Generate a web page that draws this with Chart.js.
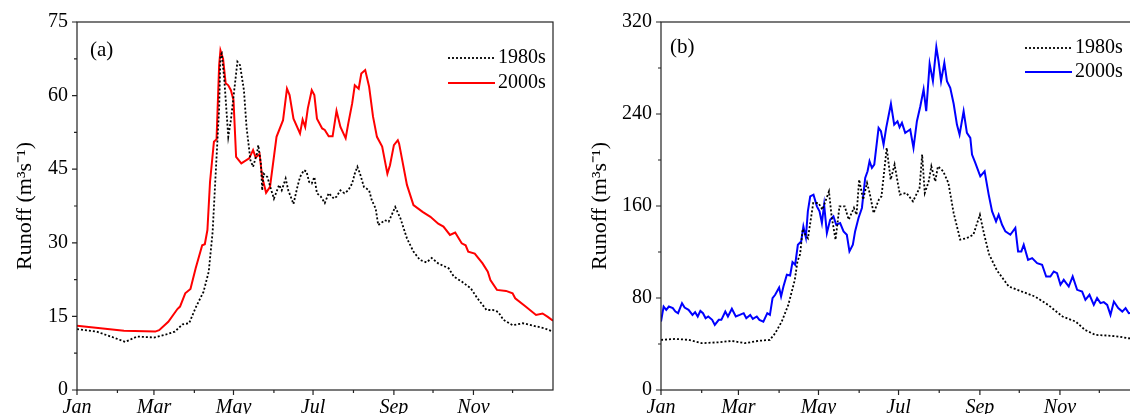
<!DOCTYPE html>
<html>
<head>
<meta charset="utf-8">
<title>Runoff 1980s vs 2000s</title>
<script src="https://cdn.jsdelivr.net/npm/chart.js@4.4.1/dist/chart.umd.min.js"></script>
<style>
  html, body { margin: 0; padding: 0; background: #fff; }
  body { width: 1130px; height: 414px; position: relative; overflow: hidden; }
  .panel { position: absolute; top: 0; height: 414px; overflow: hidden; }
  #panel-a { left: 0; width: 560px; }
  #panel-b { left: 580px; width: 550px; }
</style>
</head>
<body>
<div class="panel" id="panel-a"><canvas id="chart-a" width="560" height="414"></canvas></div>
<div class="panel" id="panel-b"><canvas id="chart-b" width="600" height="414"></canvas></div>
<script>
// x axis: day of year, ticks at the first day of each month
const monthStarts = [0, 31, 59, 90, 120, 151, 181, 212, 243, 273, 304, 334];
const monthLabels = ['Jan', '', 'Mar', '', 'May', '', 'Jul', '', 'Sep', '', 'Nov', ''];

// panel (a)
const yTicksA = [0, 15, 30, 45, 60, 75];
const yMinorA = [7.5, 22.5, 37.5, 52.5, 67.5];

const daysA1980 = [0, 15, 28, 37, 46, 59, 68, 75, 81, 86, 91, 97, 101, 104, 106, 109, 110, 111, 113, 116,
  118, 120, 123, 125, 128, 130, 133, 135, 138, 139, 141, 142, 143, 146, 149, 151, 155, 157, 160, 162,
  166, 169, 171, 174, 176, 178, 180, 182, 184, 187, 190, 193, 197, 199, 202, 205, 208, 211, 213, 215,
  217, 220, 224, 226, 229, 231, 236, 239, 244, 248, 253, 258, 263, 268, 272, 277, 285, 289, 295, 302,
  307, 312, 314, 319, 323, 327, 334, 342, 350, 358, 365];
const runoffA1980 = [12.4, 11.9, 10.7, 9.8, 10.9, 10.7, 11.3, 11.9, 13.4, 13.6, 16.8, 20.0, 24.1, 32.2, 42.4, 57.4, 68.2, 68.6, 63.1, 51.6,
  55.0, 59.7, 66.9, 66.2, 61.1, 53.6, 46.8, 45.5, 48.2, 49.9, 46.2, 40.7, 44.1, 43.4, 40.7, 39.0, 41.8, 40.7, 43.1, 40.7,
  37.9, 41.4, 43.4, 44.8, 44.5, 42.4, 42.1, 43.4, 40.1, 39.4, 38.1, 40.1, 39.0, 39.4, 40.7, 40.1, 40.7, 42.1, 44.1, 45.5,
  44.1, 41.4, 40.7, 38.7, 37.0, 33.6, 34.6, 34.3, 37.3, 35.0, 30.9, 28.2, 26.5, 26.0, 26.9, 25.8, 24.8, 23.1, 22.1, 20.7,
  18.7, 17.0, 16.3, 16.3, 15.9, 14.3, 13.2, 13.6, 13.1, 12.6, 11.9];

const daysA2000 = [0, 18, 36, 60, 63, 70, 77, 79, 83, 87, 91, 96, 98, 100, 102, 105, 107, 109, 110, 112,
  114, 116, 118, 120, 122, 126, 132, 135, 137, 140, 142, 145, 148, 153, 158, 161, 163, 166, 171, 173,
  175, 177, 180, 182, 184, 188, 190, 193, 196, 199, 202, 206, 208, 211, 213, 216, 218, 221, 224, 227,
  230, 234, 238, 240, 243, 246, 247, 253, 258, 265, 271, 277, 281, 286, 290, 295, 298, 300, 305, 311,
  315, 317, 322, 329, 334, 336, 344, 352, 357, 361, 365];
const runoffA2000 = [13.1, 12.6, 12.1, 11.9, 12.2, 13.9, 16.5, 17.0, 19.7, 20.6, 24.8, 29.5, 29.7, 32.6, 42.4, 50.6, 51.1, 66.2, 69.2, 67.5,
  62.5, 62.1, 61.1, 59.1, 47.5, 46.2, 47.2, 48.9, 47.4, 48.1, 43.4, 40.2, 41.4, 51.6, 55.0, 61.4, 60.1, 55.3, 52.3, 55.1,
  53.6, 57.4, 61.1, 60.1, 55.3, 53.3, 53.0, 51.7, 51.7, 56.9, 53.6, 51.3, 54.3, 58.4, 62.1, 61.4, 64.5, 65.2, 61.8, 55.7,
  51.6, 49.6, 44.1, 45.8, 49.9, 50.9, 50.2, 41.8, 37.7, 36.3, 35.3, 33.9, 33.3, 31.6, 32.1, 29.9, 29.5, 28.2, 27.8, 25.8,
  24.1, 22.4, 20.4, 20.2, 19.7, 18.7, 17.0, 15.3, 15.6, 14.9, 14.1];

// panel (b)
const yTicksB = [0, 80, 160, 240, 320];
const yMinorB = [40, 120, 200, 280];

const daysB1980 = [0, 11, 21, 31, 44, 54, 64, 74, 83, 87, 92, 97, 102, 104, 106, 108, 110, 112, 116, 120,
  123, 128, 130, 133, 136, 140, 143, 147, 149, 151, 154, 157, 159, 162, 166, 168, 172, 175, 178, 182,
  187, 192, 197, 199, 201, 204, 206, 209, 211, 215, 219, 223, 228, 233, 238, 243, 246, 250, 256, 265,
  275, 285, 295, 306, 316, 323, 331, 341, 349, 356, 365];
const runoffB1980 = [43.6, 44.4, 43.6, 40.7, 41.5, 42.7, 40.7, 42.7, 43.6, 49.4, 59.5, 74.0, 96.0, 112.0, 118.0, 140.0, 135.0, 132.0, 162.6, 162.6,
  156.8, 172.7, 151.0, 130.7, 159.7, 159.7, 148.1, 158.3, 152.4, 182.9, 165.5, 180.0, 171.3, 153.9, 165.5, 168.4, 210.5, 182.9, 196.0, 169.9,
  171.3, 164.0, 175.7, 204.7, 171.3, 181.4, 194.5, 181.4, 194.5, 190.2, 180.0, 153.9, 130.7, 132.1, 135.0, 152.4, 136.5, 118.0, 104.0, 90.0,
  85.6, 81.3, 74.0, 63.9, 59.5, 52.3, 47.9, 47.3, 46.4, 45.0, 44.0];

const daysB2000 = [0, 2, 4, 6, 9, 11, 13, 16, 18, 21, 24, 26, 28, 30, 32, 34, 36, 39, 41, 44,
  46, 49, 51, 54, 57, 60, 63, 65, 68, 70, 73, 75, 78, 81, 83, 85, 87, 90, 91.5, 93.3,
  95.9, 98.4, 100.2, 102.2, 104.3, 106.8, 108.5, 110.4, 111.9, 113.7, 116.2, 118.8, 120.8, 122.6, 124.3, 126.4, 128.9, 131.4, 133.5, 136.5,
  139.1, 141.6, 143.6, 146.2, 147.9, 150.5, 153.1, 155.6, 157.4, 158.9, 160.7, 162.5, 164, 165.8, 167.6, 169.6, 171.6, 175.2, 177.7, 180.2,
  181.8, 183.6, 186.1, 187.9, 189.9, 192.4, 195, 197.6, 200.1, 202.1, 204.7, 207.2, 209.8, 211.5, 213.4, 215.9, 217.9, 220.4, 223, 225.5,
  227.5, 230.6, 233.1, 235.7, 237, 239.5, 243.3, 246.6, 249.7, 252.3, 255.3, 257.3, 259.9, 262.4, 266.2, 270, 272.1, 274.6, 276.4, 279.7,
  282.8, 286.6, 290.4, 293.5, 296.7, 299.3, 301.8, 304.4, 306.9, 310.7, 313.7, 317.1, 320.9, 323.4, 326.5, 329.8, 332.3, 334.9, 337.4, 340,
  342.5, 345.1, 348.4, 351.5, 354, 356.5, 365];
const runoffB2000 = [59.5, 72.6, 69.7, 72.6, 71.2, 68.2, 66.8, 75.5, 71.7, 69.7, 65.3, 67.7, 63.9, 68.8, 66.8, 62.4, 63.9, 61.0, 56.6, 61.0,
  61.0, 68.2, 63.9, 70.6, 63.9, 65.3, 66.8, 62.4, 65.3, 61.8, 63.9, 61.0, 59.5, 66.8, 65.3, 79.9, 82.8, 89.1, 81.3, 90.0,
  100.2, 99.6, 111.2, 108.9, 126.3, 129.2, 142.2, 132.7, 155.3, 168.4, 169.9, 159.7, 155.3, 145.2, 161.1, 136.5, 148.1, 151.0, 143.7, 145.2,
  137.9, 135.0, 120.5, 126.3, 137.9, 149.6, 158.3, 184.4, 190.2, 198.9, 193.1, 196.0, 210.5, 227.9, 225.0, 213.4, 227.9, 248.9, 230.8, 233.7,
  228.5, 232.3, 223.6, 225.0, 226.5, 210.5, 233.7, 246.8, 261.3, 242.4, 283.7, 268.6, 298.2, 286.0, 268.6, 284.6, 268.6, 262.8, 248.9, 230.8,
  222.1, 242.4, 223.6, 219.2, 204.7, 197.5, 185.8, 190.2, 169.9, 155.3, 146.6, 152.4, 143.7, 137.9, 135.0, 140.9, 120.5, 120.5, 126.3, 113.2,
  114.7, 110.3, 108.9, 98.7, 98.7, 103.0, 101.6, 91.5, 95.8, 90.0, 98.7, 87.1, 85.6, 78.4, 82.8, 74.0, 79.9, 75.5, 76.4, 74.0,
  65.3, 76.9, 71.2, 68.2, 71.2, 66.8, 68.0];

const SERIF = '"Liberation Serif", "Times New Roman", serif';

/**
 * Turn a days array and a values array into {x, y} points
 */
function toPoints(days, values) {
  return days.map(function(d, i) { return { x: d, y: values[i] }; });
}

/**
 * Frame, outward tick marks, panel tag and in-plot legend
 */
const panelDecor = {
  id: 'panelDecor',
  afterDraw: function(chart, args, opts) {
    const ctx = chart.ctx;
    const a = chart.chartArea;
    const x = chart.scales.x;
    const y = chart.scales.y;

    ctx.save();
    ctx.strokeStyle = '#222';
    ctx.lineWidth = 1.2;
    ctx.strokeRect(a.left, a.top, a.right - a.left, a.bottom - a.top);

    // tick marks point outward, majors a bit longer
    ctx.beginPath();
    monthStarts.forEach(function(d, i) {
      const px = x.getPixelForValue(d);
      const len = monthLabels[i] ? 5 : 3;
      ctx.moveTo(px, a.bottom);
      ctx.lineTo(px, a.bottom + len);
    });
    opts.yMajor.forEach(function(v) {
      const py = y.getPixelForValue(v);
      ctx.moveTo(a.left, py);
      ctx.lineTo(a.left - 5, py);
    });
    opts.yMinor.forEach(function(v) {
      const py = y.getPixelForValue(v);
      ctx.moveTo(a.left, py);
      ctx.lineTo(a.left - 3, py);
    });
    ctx.stroke();

    ctx.fillStyle = '#000';
    ctx.textBaseline = 'middle';
    ctx.textAlign = 'left';
    ctx.font = '21px ' + SERIF;
    ctx.fillText(opts.tag, opts.tagX, opts.tagY);

    // legend
    ctx.font = '20px ' + SERIF;
    chart.data.datasets.forEach(function(ds, i) {
      const ly = opts.legendY[i];
      ctx.save();
      ctx.strokeStyle = ds.borderColor;
      ctx.lineWidth = ds.borderWidth;
      ctx.setLineDash(ds.borderDash || []);
      ctx.beginPath();
      ctx.moveTo(opts.legendX, ly);
      ctx.lineTo(opts.legendX + 47, ly);
      ctx.stroke();
      ctx.restore();
      ctx.fillText(ds.label, opts.legendX + 50, ly);
    });
    ctx.restore();
  }
};

/**
 * Build one panel
 */
function makePanel(canvasId, cfg) {
  const ctx = document.getElementById(canvasId).getContext('2d');
  return new Chart(ctx, {
    type: 'line',
    data: {
      datasets: [{
        label: '1980s',
        data: toPoints(cfg.days1980, cfg.runoff1980),
        borderColor: '#000',
        borderWidth: 1.8,
        borderDash: [2, 2],
        pointRadius: 0,
        tension: 0,
        fill: false
      }, {
        label: '2000s',
        data: toPoints(cfg.days2000, cfg.runoff2000),
        borderColor: cfg.color,
        borderWidth: 2,
        pointRadius: 0,
        tension: 0,
        fill: false
      }]
    },
    options: {
      responsive: false,
      animation: false,
      layout: { padding: { left: 0, top: 22, right: cfg.padRight, bottom: 0 } },
      plugins: {
        legend: { display: false },
        tooltip: { enabled: false },
        panelDecor: {
          yMajor: cfg.yTicks,
          yMinor: cfg.yMinor,
          tag: cfg.tag,
          tagX: cfg.tagX,
          tagY: cfg.tagY,
          legendX: cfg.legendX,
          legendY: cfg.legendY
        }
      },
      scales: {
        x: {
          type: 'linear',
          min: 0,
          max: 365,
          grid: { display: false, drawTicks: false },
          border: { display: false },
          afterBuildTicks: function(scale) {
            scale.ticks = monthStarts.map(function(v) { return { value: v }; });
          },
          afterFit: function(scale) { scale.height = 24; },
          ticks: {
            autoSkip: false,
            maxRotation: 0,
            padding: 6,
            color: '#000',
            font: { family: SERIF, size: 20, style: 'italic' },
            callback: function(v, i) { return monthLabels[i]; }
          }
        },
        y: {
          min: 0,
          max: cfg.yTicks[cfg.yTicks.length - 1],
          grid: { display: false, drawTicks: false },
          border: { display: false },
          afterBuildTicks: function(scale) {
            scale.ticks = cfg.yTicks.map(function(v) { return { value: v }; });
          },
          afterFit: function(scale) { scale.width = cfg.axisWidth; },
          ticks: {
            padding: 9,
            color: '#000',
            font: { family: SERIF, size: 20 }
          },
          title: {
            display: true,
            text: 'Runoff (m³s⁻¹)',
            color: '#000',
            font: { family: SERIF, size: 22 },
            padding: { top: cfg.titlePad, bottom: 0 }
          }
        }
      }
    },
    plugins: [panelDecor]
  });
}

makePanel('chart-a', {
  days1980: daysA1980, runoff1980: runoffA1980,
  days2000: daysA2000, runoff2000: runoffA2000,
  color: '#ff0000',
  yTicks: yTicksA, yMinor: yMinorA,
  axisWidth: 77, padRight: 7, titlePad: 12,
  tag: '(a)', tagX: 90, tagY: 50,
  legendX: 448, legendY: [58, 83]
});

makePanel('chart-b', {
  days1980: daysB1980, runoff1980: runoffB1980,
  days2000: daysB2000, runoff2000: runoffB2000,
  color: '#0000ff',
  yTicks: yTicksB, yMinor: yMinorB,
  axisWidth: 81, padRight: 40, titlePad: 7,
  tag: '(b)', tagX: 90, tagY: 47,
  legendX: 445, legendY: [48, 72]
});
</script>
</body>
</html>
